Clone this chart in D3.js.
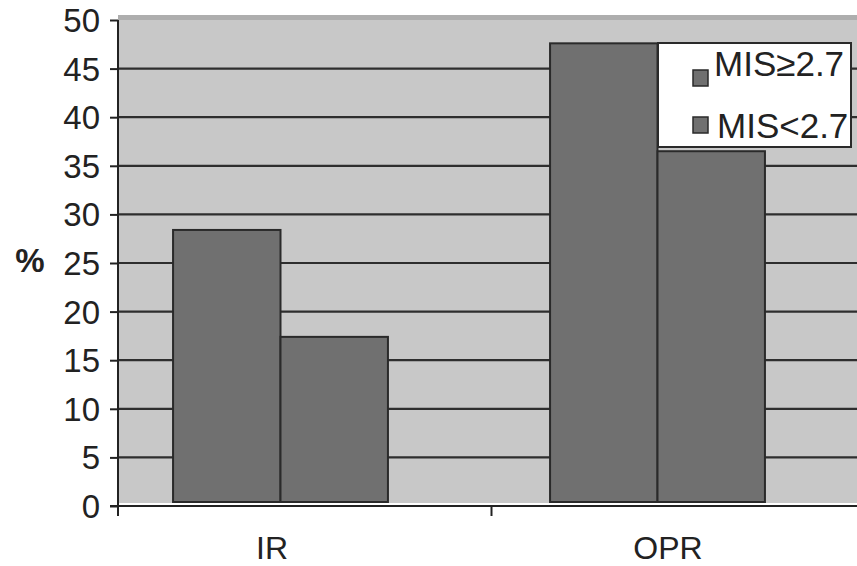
<!DOCTYPE html>
<html>
<head>
<meta charset="utf-8">
<script src="https://cdn.jsdelivr.net/npm/d3@7/dist/d3.min.js"></script>
<style>
  html, body { margin: 0; padding: 0; background: #fff; }
  svg { display: block; }
  text { font-family: "Liberation Sans", Arial, sans-serif; fill: #222; }
</style>
</head>
<body>
<svg id="chart" width="857" height="566"></svg>
<script>
// ---- data ----
const categories = ["IR", "OPR"];
const seriesNames = ["MIS\u22652.7", "MIS<2.7"];
const misHigh = [28.4, 47.6];   // MIS≥2.7
const misLow  = [17.4, 36.5];   // MIS<2.7
const yTicks  = [0, 5, 10, 15, 20, 25, 30, 35, 40, 45, 50];
const yLabel  = "%";

// ---- layout ----
const W = 857, H = 566;
const plotLeft = 118, plotRight = 865, plotTop = 20, plotBottom = 506;
const svg = d3.select("#chart");

const y = d3.scaleLinear().domain([0, 50]).range([plotBottom, plotTop]);
// axis categories (ticks between groups)
const xAxisScale = d3.scaleBand().domain(categories).range([plotLeft, plotRight]);
// bar groups
const xb = d3.scaleBand().domain(categories).range([92, 846]).paddingInner(0.43).paddingOuter(0.215);
const xs = d3.scaleBand().domain(seriesNames).range([0, xb.bandwidth()]);
const xLabel = d3.scalePoint().domain(categories).range([272, 668]);

const baseGap = 4;
const gridColor = "#2e2e2e";
const barFill = "#707070";
const barStroke = "#2a2a2a";

// plot background
svg.append("rect")
  .attr("x", plotLeft).attr("y", plotTop - 5)
  .attr("width", W - plotLeft).attr("height", 5)
  .attr("fill", "#aeaeae");
svg.append("rect")
  .attr("x", plotLeft).attr("y", plotTop)
  .attr("width", W - plotLeft).attr("height", plotBottom - baseGap + 1 - plotTop)
  .attr("fill", "#c8c8c8");

// gridlines
svg.append("g").selectAll("line")
  .data(yTicks.filter(t => t > 0 && t < 50))
  .join("line")
  .attr("x1", plotLeft).attr("x2", W)
  .attr("y1", d => y(d)).attr("y2", d => y(d))
  .attr("stroke", gridColor).attr("stroke-width", 2.2);

// bars
const rows = categories.map((c, i) => ({ cat: c, vals: [misHigh[i], misLow[i]] }));
const groups = svg.append("g").selectAll("g")
  .data(rows).join("g")
  .attr("transform", d => `translate(${xb(d.cat)},0)`);
groups.selectAll("rect")
  .data(d => d.vals.map((v, j) => ({ s: seriesNames[j], v })))
  .join("rect")
  .attr("x", d => xs(d.s))
  .attr("y", d => y(d.v))
  .attr("width", xs.bandwidth())
  .attr("height", d => y(0) - baseGap - y(d.v))
  .attr("fill", barFill)
  .attr("stroke", barStroke)
  .attr("stroke-width", 2);

// y axis
const yAxis = d3.axisLeft(y).tickValues(yTicks).tickSize(8).tickPadding(10);
const gy = svg.append("g").attr("transform", `translate(${plotLeft},0)`).call(yAxis);
gy.select(".domain").remove();
gy.selectAll(".tick line").attr("stroke", "#222").attr("stroke-width", 2);
gy.selectAll(".tick text").style("font-size", "33px").attr("fill", "#222").attr("dy", "0.35em");
svg.append("line")
  .attr("x1", plotLeft).attr("x2", plotLeft)
  .attr("y1", plotTop).attr("y2", plotBottom + 10)
  .attr("stroke", "#222").attr("stroke-width", 2);

// x axis
svg.append("line")
  .attr("x1", plotLeft - 8).attr("x2", W)
  .attr("y1", plotBottom).attr("y2", plotBottom)
  .attr("stroke", "#222").attr("stroke-width", 2);
svg.append("g").selectAll("line")
  .data(categories.slice(1))
  .join("line")
  .attr("x1", d => xAxisScale(d)).attr("x2", d => xAxisScale(d))
  .attr("y1", plotBottom).attr("y2", plotBottom + 10)
  .attr("stroke", "#222").attr("stroke-width", 2);
svg.append("g").selectAll("text")
  .data(categories)
  .join("text")
  .attr("x", d => xLabel(d))
  .attr("y", 559)
  .attr("text-anchor", "middle")
  .style("font-size", "32px")
  .text(d => d);

// y label
svg.append("text")
  .attr("x", 30).attr("y", 272)
  .attr("text-anchor", "middle")
  .style("font-size", "33px")
  .style("font-weight", "bold")
  .text(yLabel);

// legend
const lg = svg.append("g");
lg.append("rect")
  .attr("x", 658).attr("y", 43)
  .attr("width", 193).attr("height", 104)
  .attr("fill", "#fff")
  .attr("stroke", "#2a2a2a").attr("stroke-width", 2);
const legendRows = [
  { name: seriesNames[0], sy: 70, ty: 76, tx: 714 },
  { name: seriesNames[1], sy: 117, ty: 138, tx: 717 }
];
legendRows.forEach(r => {
  lg.append("rect")
    .attr("x", 693).attr("y", r.sy)
    .attr("width", 15).attr("height", 16)
    .attr("fill", barFill).attr("stroke", barStroke).attr("stroke-width", 1.5);
  lg.append("text")
    .attr("x", r.tx).attr("y", r.ty)
    .style("font-size", "35px")
    .text(r.name);
});
</script>
</body>
</html>
